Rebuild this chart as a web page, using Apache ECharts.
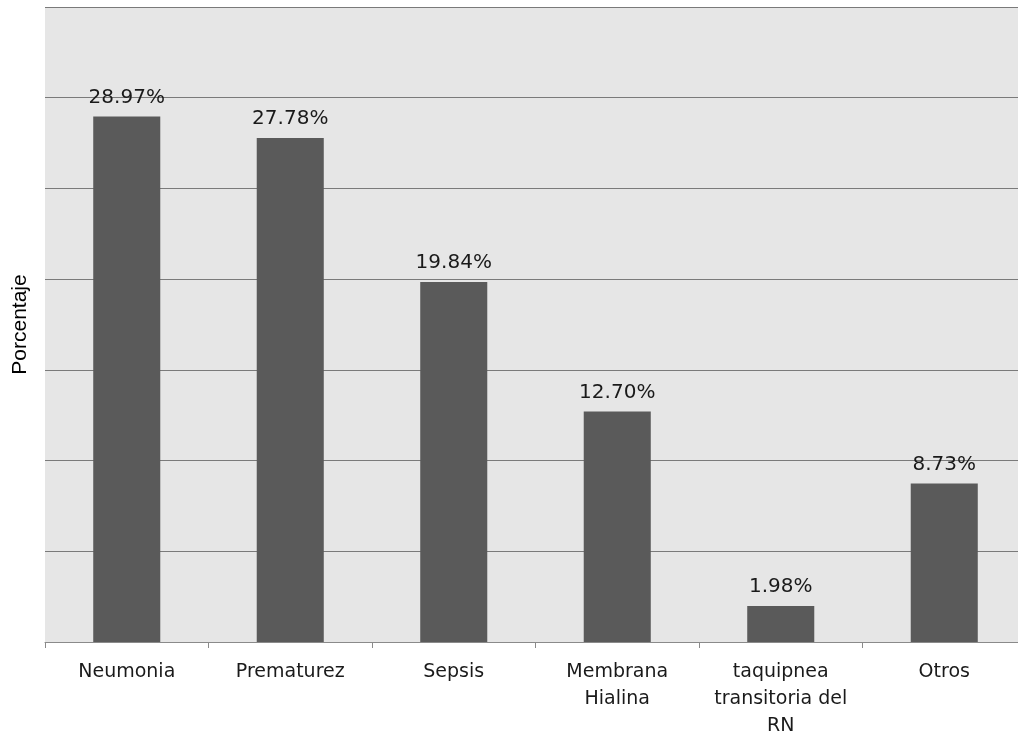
<!DOCTYPE html>
<html>
<head>
<meta charset="utf-8">
<script src="https://cdn.jsdelivr.net/npm/echarts@6/dist/echarts.min.js"></script>
<style>
  html, body { margin: 0; padding: 0; background: #fff; }
  #chart { width: 1018px; height: 734px; }
</style>
</head>
<body>
<div id="chart"></div>
<script>
// causas, en porcentaje
const categories = ['Neumonia', 'Prematurez', 'Sepsis', 'Membrana\nHialina', 'taquipnea\ntransitoria del\nRN', 'Otros'];
const porcentajes = [28.97, 27.78, 19.84, 12.70, 1.98, 8.73];
const yTicks = [0, 5, 10, 15, 20, 25, 30, 35];

const chart = echarts.init(document.getElementById('chart'));

const option = {
  animation: false,
  grid: {
    left: 45,
    width: 981,
    top: 7,
    bottom: 92,
    outerBoundsMode: 'none',
    containLabel: false,
    show: true,
    backgroundColor: '#e6e6e6',
    borderWidth: 0
  },
  xAxis: {
    type: 'category',
    data: categories,
    axisLine: { lineStyle: { color: '#8a8a8a', width: 1 } },
    axisTick: { show: true, length: 6, interval: 0, lineStyle: { color: '#8a8a8a' } },
    axisLabel: {
      interval: 0,
      margin: 17,
      color: '#1a1a1a',
      fontFamily: 'DejaVu Sans',
      fontSize: 19,
      lineHeight: 27
    }
  },
  yAxis: {
    type: 'value',
    min: yTicks[0],
    max: yTicks[yTicks.length - 1],
    interval: yTicks[1] - yTicks[0],
    name: 'Porcentaje',
    nameLocation: 'middle',
    nameGap: 14,
    nameTextStyle: {
      color: '#000',
      fontFamily: 'Liberation Sans',
      fontSize: 21
    },
    axisLine: { show: false },
    axisTick: { show: false },
    axisLabel: { show: false },
    splitLine: { lineStyle: { color: '#7a7a7a', width: 1 } }
  },
  series: [{
    type: 'bar',
    data: porcentajes,
    barWidth: '41%',
    itemStyle: { color: '#5a5a5a' },
    label: {
      show: true,
      position: 'top',
      distance: 9,
      color: '#1a1a1a',
      fontFamily: 'DejaVu Sans',
      fontSize: 20,
      formatter: p => p.value.toFixed(2) + '%'
    }
  }]
};

chart.setOption(option);
</script>
</body>
</html>
